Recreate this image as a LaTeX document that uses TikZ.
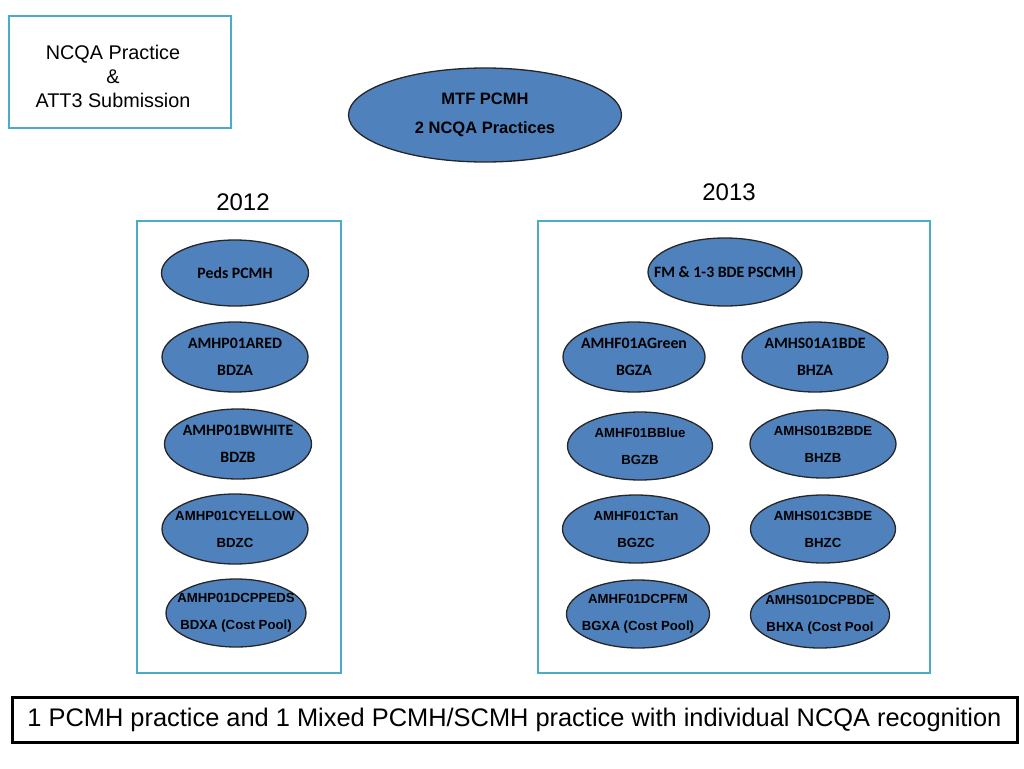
\documentclass[tikz,border=0pt]{standalone}
\usepackage{fontspec}
\setmainfont{Liberation Sans}
\newfontfamily\calfont{Carlito}
\usetikzlibrary{shapes,shapes.geometric,positioning}
\definecolor{panelteal}{RGB}{75,172,198}
\definecolor{practiceblue}{RGB}{79,129,189}
% text that may run past the ellipse edge, as in the slide
\newcommand{\ptext}[1]{\makebox[0pt]{#1}}

\begin{document}
\begin{tikzpicture}[
    x=1pt, y=-1pt,
    note/.style={rectangle, draw=panelteal, line width=2.5pt},
    notetext/.style={align=center, font=\fontsize{19.8}{24}\selectfont},
    panel/.style={rectangle, draw=panelteal, line width=2.5pt},
    practice/.style={ellipse, draw=black!85, line width=1.3pt, fill=practiceblue, inner sep=0pt, align=center, font=\calfont\bfseries\fontsize{15.8}{27}\selectfont},
    practicesans/.style={practice, font=\bfseries\fontsize{13.2}{27}\selectfont},
    year/.style={font=\fontsize{24}{28}\selectfont},
    summary/.style={rectangle, draw=black, line width=3pt, font=\fontsize{25.4}{28}\selectfont}
]
\useasboundingbox (0,0) rectangle (1024,768);

% Legend and top level
\node[note, minimum width=222, minimum height=112] (ncqa) at (120,72) {};
\node[notetext] (ncqatext) at (113,76) {NCQA Practice\\\&\\ATT3 Submission};
\node[practice, font=\bfseries\fontsize{16.5}{29}\selectfont, minimum width=273, minimum height=94] (mtf) at (485,115) {MTF PCMH\\2 NCQA Practices};

% Year panels
\node[year] (y2012) at (243,202) {2012};
\node[year] (y2013) at (729,192) {2013};
\node[panel, minimum width=204, minimum height=452] (left) at (239,447) {};
\node[panel, minimum width=392, minimum height=452] (right) at (734,447) {};

% 2012 practices
\node[practice, minimum width=147, minimum height=66] (peds) at (235,273) {\ptext{Peds PCMH}};
\node[practice, minimum width=146, minimum height=70] (ared) at (235,357) {\ptext{AMHP01ARED}\\\ptext{BDZA}};
\node[practice, minimum width=147, minimum height=70] (bwhite) at (238,444) {\ptext{AMHP01BWHITE}\\\ptext{BDZB}};
\node[practicesans, minimum width=146, minimum height=70] (cyellow) at (235,529) {\ptext{AMHP01CYELLOW}\\\ptext{BDZC}};
\node[practicesans, minimum width=140, minimum height=68] (dcppeds) at (236,613) {\ptext{AMHP01DCPPEDS}\\\ptext{BDXA (Cost Pool)}};

% 2013 practices
\node[practice, minimum width=154, minimum height=68] (fm) at (725,272) {\ptext{FM \& 1-3 BDE PSCMH}};
\node[practice, minimum width=142, minimum height=70] (agreen) at (634,357) {\ptext{AMHF01AGreen}\\\ptext{BGZA}};
\node[practice, minimum width=146, minimum height=70] (a1bde) at (815,357) {\ptext{AMHS01A1BDE}\\\ptext{BHZA}};
\node[practicesans, minimum width=145, minimum height=68] (bblue) at (640,446) {\ptext{AMHF01BBlue}\\\ptext{BGZB}};
\node[practicesans, minimum width=146, minimum height=68] (b2bde) at (823,444) {\ptext{AMHS01B2BDE}\\\ptext{BHZB}};
\node[practicesans, minimum width=147, minimum height=68] (ctan) at (636,529) {\ptext{AMHF01CTan}\\\ptext{BGZC}};
\node[practicesans, minimum width=145, minimum height=68] (c3bde) at (823,529) {\ptext{AMHS01C3BDE}\\\ptext{BHZC}};
\node[practicesans, minimum width=143, minimum height=68] (dcpfm) at (638,614) {\ptext{AMHF01DCPFM}\\\ptext{BGXA (Cost Pool)}};
\node[practicesans, minimum width=139, minimum height=66] (dcpbde) at (820,615) {\ptext{AMHS01DCPBDE}\\\ptext{BHXA (Cost Pool}};

% Summary
\node[summary, minimum width=1005, minimum height=45] (note) at (514.5,719.5) {1 PCMH practice and 1 Mixed PCMH/SCMH practice with individual NCQA recognition};

\end{tikzpicture}
\end{document}
